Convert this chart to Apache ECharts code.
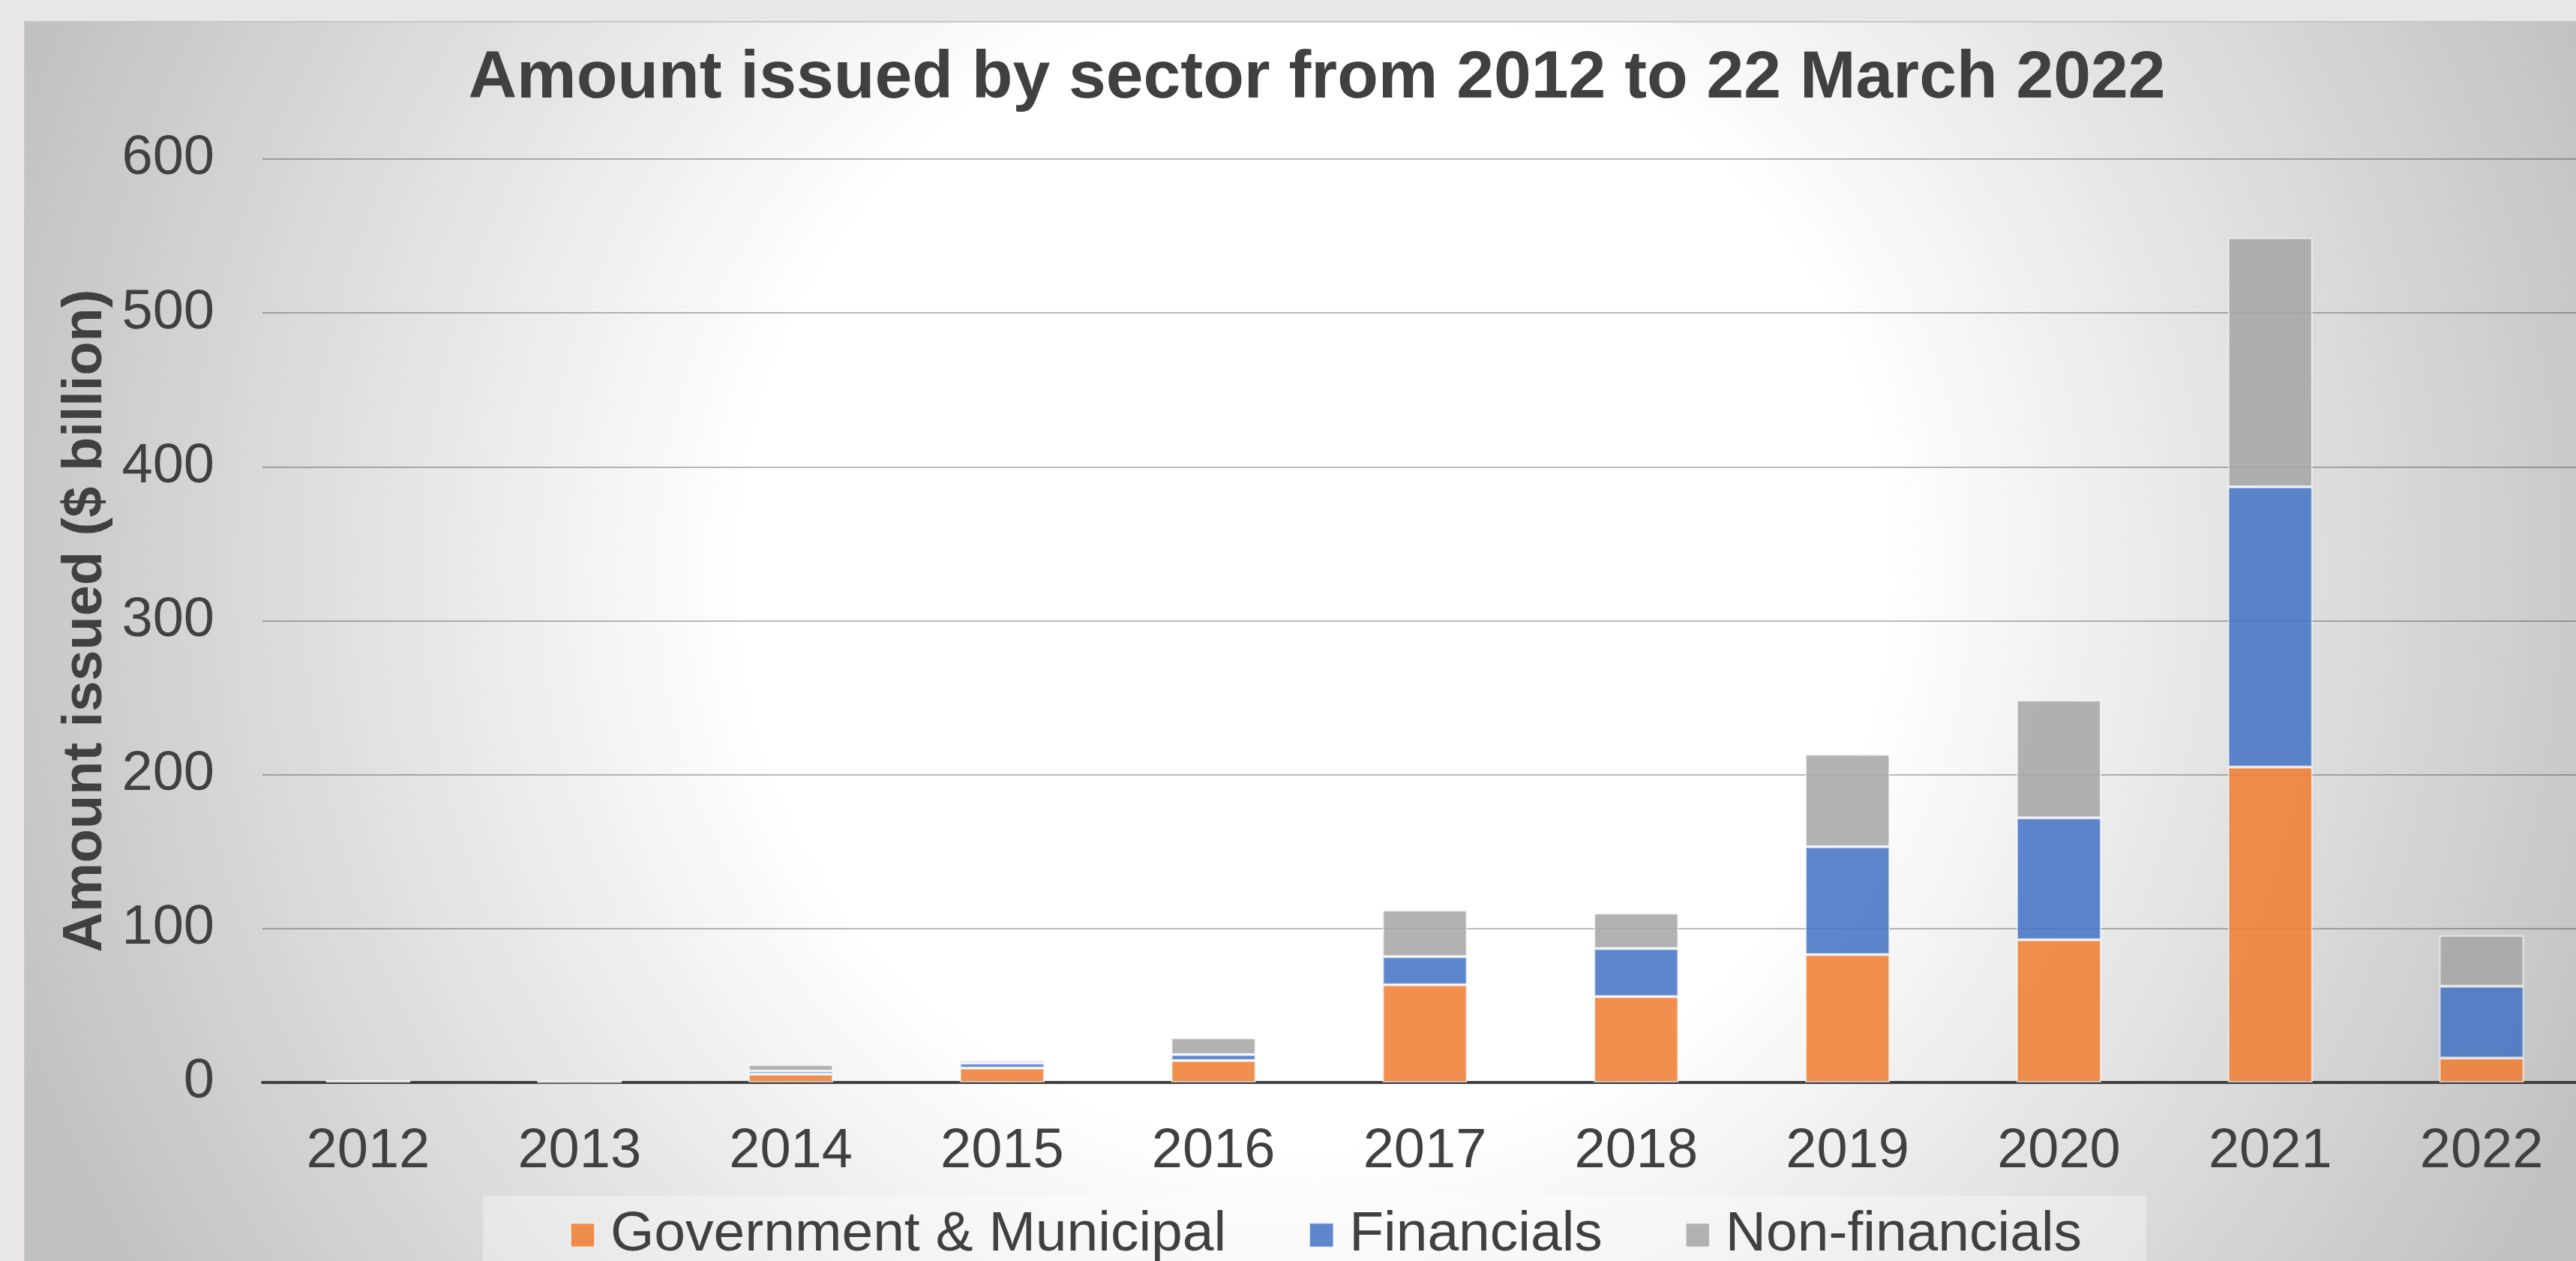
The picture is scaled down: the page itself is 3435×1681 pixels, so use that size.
<!DOCTYPE html>
<html>
<head>
<meta charset="utf-8">
<script src="https://cdn.jsdelivr.net/npm/echarts@6/dist/echarts.min.js"></script>
<style>
  html, body { margin: 0; padding: 0; background: #e8e6e7; overflow: hidden; width: 3435px; height: 1681px; }
  #chart {
    position: absolute; left: 32px; top: 28px; width: 3446px; height: 1680px;
    box-sizing: border-box; border-top: 2px solid #c6c6c6; border-left: 2px solid #c6c6c6;
    background: radial-gradient(circle at 1718px 732px, #ffffff 0px, #ffffff 760px, #c0c0c0 1860px);
  }
</style>
</head>
<body>
<div id="chart"></div>
<script>
const years = ['2012','2013','2014','2015','2016','2017','2018','2019','2020','2021','2022'];
const govMunicipal = [0.8, 0.2, 5.4, 9.4, 14.3, 63.5, 55.8, 83.1, 92.7, 205, 15.9];
const financials = [0.1, 0.7, 2.0, 3.1, 3.9, 18.3, 31.2, 70.1, 79.2, 182, 46.6];
const nonFinancials = [0.1, 0.1, 4.2, 1.9, 10.8, 30.2, 23.0, 60.0, 76.6, 162, 33.1];
const seriesNames = ['Government & Municipal', 'Financials', 'Non-financials'];
const yTicks = { min: 0, max: 600, interval: 100 };

const font = '"Liberation Sans", Arial, sans-serif';
const txt = '#404040';
const colors = ['rgba(237,125,49,0.86)', 'rgba(68,114,196,0.86)', 'rgba(165,165,165,0.86)'];

const chart = echarts.init(document.getElementById('chart'), null, { renderer: 'canvas' });
function mk(name, data, i) {
  return {
    name: name, type: 'bar', stack: 'total', data: data, barWidth: 113,
    itemStyle: { color: colors[i], borderColor: 'rgba(255,255,255,0.6)', borderWidth: 2 },
    emphasis: { disabled: true }
  };
}
chart.setOption({
  backgroundColor: 'transparent',
  animation: false,
  textStyle: { fontFamily: font },
  title: {
    text: 'Amount issued by sector from 2012 to 22 March 2022',
    left: 'center', top: 25,
    textStyle: { fontFamily: font, fontSize: 89.5, fontWeight: 'bold', color: txt }
  },
  legend: {
    data: seriesNames, left: 610, top: 1564,
    itemWidth: 32, itemHeight: 32, itemGap: 110, icon: 'rect',
    padding: [15, 86, 40, 116],
    backgroundColor: 'rgba(255,255,255,0.35)',
    textStyle: { fontFamily: font, fontSize: 75, color: txt, padding: [0, 0, 0, 16] }
  },
  grid: { left: 316, top: 182, right: 28, bottom: 265, containLabel: false },
  xAxis: {
    type: 'category', data: years,
    axisLine: { lineStyle: { color: '#404040', width: 4 } },
    axisTick: { show: false },
    axisLabel: { fontFamily: font, fontSize: 74, color: txt, margin: 56 }
  },
  yAxis: {
    type: 'value', min: yTicks.min, max: yTicks.max, interval: yTicks.interval,
    name: 'Amount issued ($ billion)', nameLocation: 'middle', nameRotate: 90, nameGap: 191,
    nameTextStyle: { fontFamily: font, fontSize: 74, fontWeight: 'bold', color: txt },
    axisLine: { show: false }, axisTick: { show: false },
    axisLabel: { fontFamily: font, fontSize: 74, color: txt, margin: 64 },
    splitLine: { lineStyle: { color: 'rgba(0,0,0,0.27)', width: 2 } }
  },
  series: [mk(seriesNames[0], govMunicipal, 0), mk(seriesNames[1], financials, 1), mk(seriesNames[2], nonFinancials, 2)]
});
</script>
</body>
</html>
